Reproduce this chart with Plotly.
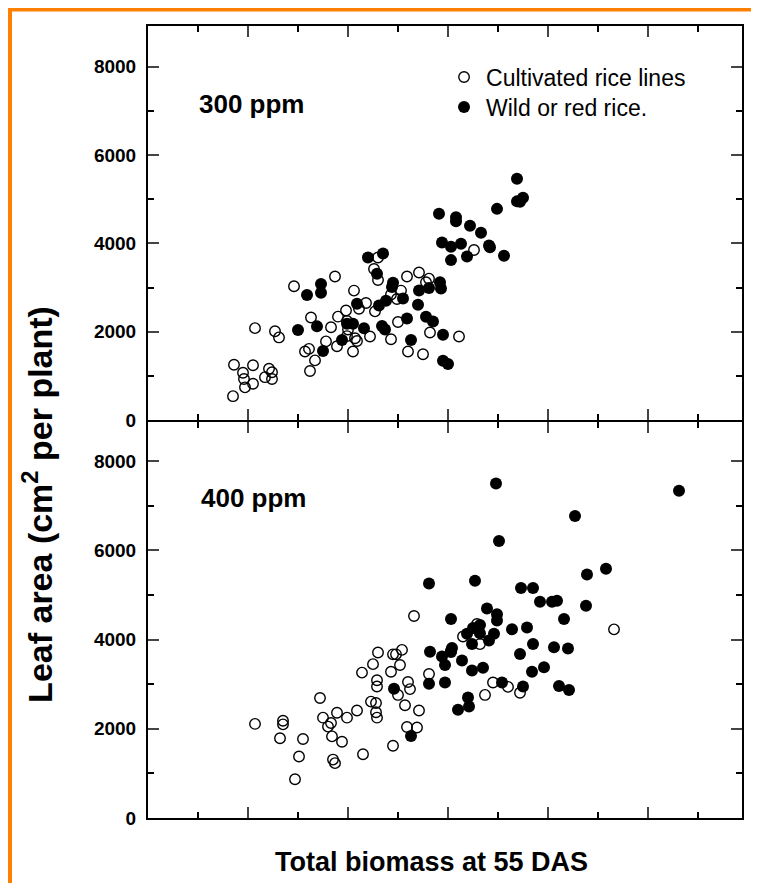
import plotly.graph_objects as go

# 300 ppm panel
cult_300_x = [8.5, 8.6, 9.5, 9.6, 9.7, 10.5, 10.5, 10.7, 11.7, 12.1, 12.4, 12.4, 12.7, 13.1,
              14.6, 15.7, 16.1, 16.3, 16.2, 16.7, 17.8, 18.3, 18.7, 18.9, 19.0, 19.8, 19.9,
              20.0, 19.9, 20.5, 20.6, 20.7, 20.9, 21.1, 21.8, 22.2, 22.6, 22.7, 23.0, 23.0,
              24.3, 24.3, 25.0, 24.9, 25.3, 25.9, 26.0, 27.1, 27.5, 27.8, 28.1, 28.2, 31.1, 32.6]
cult_300_y = [540, 1250, 1070, 930, 740, 820, 1240, 2080, 970, 1160, 1080, 930, 2010, 1870,
              3030, 1550, 1610, 2320, 1110, 1350, 1780, 2100, 3250, 1670, 2340, 2480, 2240,
              2050, 1900, 1550, 2930, 1850, 1790, 2520, 2650, 1890, 3420, 2460, 3170, 3680,
              2840, 1830, 2220, 2740, 2930, 3250, 1550, 3340, 1490, 3120, 3200, 1980, 1890, 3850]
wild_300_x = [15.0, 15.9, 16.9, 17.3, 17.3, 17.5, 19.4, 19.9, 20.5, 20.9, 21.6, 22.0, 22.9,
              23.1, 23.5, 23.8, 23.4, 23.7, 24.4, 24.5, 25.5, 25.9, 26.3, 27.0, 27.1, 27.8,
              28.1, 28.5, 29.2, 29.3, 29.5, 29.5, 30.0, 29.1, 30.8, 30.8, 32.2, 33.3, 34.9,
              36.9, 36.9, 37.2, 37.5, 29.4, 30.3, 31.3, 30.3, 31.9, 34.1, 34.2, 35.6]
wild_300_y = [2040, 2830, 2120, 3080, 2880, 1560, 1810, 2180, 2180, 2630, 2080, 3680, 3310,
              2590, 3770, 2700, 2130, 2050, 3010, 3110, 2750, 2300, 1810, 2610, 2930, 2340,
              2990, 2230, 3120, 2980, 1930, 1340, 1270, 4670, 4590, 4500, 4400, 4240, 4780,
              5460, 4950, 4940, 5030, 4020, 3920, 3990, 3620, 3700, 3950, 3910, 3720]

# 400 ppm panel
cult_400_x = [10.7, 13.5, 13.5, 13.2, 15.5, 15.1, 14.7, 17.2, 17.5, 18.3, 18.0, 18.4, 19.4,
              18.9, 19.9, 18.5, 18.7, 20.9, 21.5, 21.4, 22.3, 22.8, 22.8, 22.9, 22.5, 23.0,
              22.9, 22.9, 24.3, 24.5, 24.8, 25.2, 25.4, 25.0, 25.7, 26.0, 26.2, 27.1, 25.9,
              26.9, 24.5, 28.1, 31.5, 26.6, 33.2, 32.9, 34.5, 36.0, 37.2, 33.7, 46.6]
cult_400_y = [2110, 2180, 2100, 1790, 1770, 1380, 870, 2690, 2250, 2130, 2050, 1830, 1710,
              2360, 2250, 1310, 1230, 2410, 1430, 3260, 2610, 2580, 2370, 2250, 3450, 3710,
              3090, 2950, 3280, 3670, 3670, 3430, 3770, 2760, 2530, 3050, 2890, 2410, 2040,
              2030, 1620, 3230, 4070, 4530, 3900, 4350, 3040, 2940, 2810, 2760, 4230]
wild_400_x = [24.6, 26.3, 28.2, 28.1, 29.4, 29.7, 29.7, 30.4, 31.4, 32.4, 32.4, 32.0, 32.1,
              31.0, 31.9, 30.3, 32.5, 33.2, 33.2, 33.9, 34.9, 34.9, 34.6, 34.1, 33.5, 35.4,
              36.4, 37.9, 38.5, 37.2, 38.4, 39.6, 37.5, 40.6, 42.0, 41.6, 41.1, 42.1, 39.2,
              40.4, 40.9, 43.8, 34.8, 53.1, 42.7, 35.1, 28.1, 32.7, 43.9, 45.8, 37.3, 38.5,
              30.3, 30.3]
wild_400_y = [2900, 1840, 3730, 3010, 3620, 3430, 3040, 3810, 3530, 3900, 3310, 2700, 2500,
              2430, 4130, 4460, 4260, 4330, 4140, 4700, 4570, 4430, 4130, 3980, 3370, 3040,
              4230, 4270, 3900, 3680, 3280, 3380, 2950, 3830, 3800, 4460, 2960, 2870, 4850,
              4850, 4870, 4760, 7500, 7340, 6770, 6210, 5260, 5320, 5460, 5590, 5160, 5160,
              3750, 3720]

y_ticks = [0, 2000, 4000, 6000, 8000]

font = "Liberation Sans, Arial, sans-serif"
open_marker = dict(symbol="circle-open", size=10.5, color="black", line=dict(width=1.4, color="black"))
fill_marker = dict(symbol="circle", size=12, color="black")

fig = go.Figure()
fig.add_trace(go.Scatter(x=cult_300_x, y=cult_300_y, mode="markers", marker=open_marker,
                         xaxis="x2", yaxis="y2", name="Cultivated rice lines", legend="legend"))
fig.add_trace(go.Scatter(x=wild_300_x, y=wild_300_y, mode="markers", marker=fill_marker,
                         xaxis="x2", yaxis="y2", name="Wild or red rice.", legend="legend2"))
fig.add_trace(go.Scatter(x=cult_400_x, y=cult_400_y, mode="markers", marker=open_marker,
                         xaxis="x", yaxis="y", showlegend=False))
fig.add_trace(go.Scatter(x=wild_400_x, y=wild_400_y, mode="markers", marker=fill_marker,
                         xaxis="x", yaxis="y", showlegend=False))

xax = dict(range=[0, 59.4], dtick=10, tick0=0, ticks="inside", ticklen=11, tickwidth=2,
           showticklabels=False, showline=True, linewidth=2, linecolor="black", mirror="ticks",
           showgrid=False, zeroline=False,
           minor=dict(ticks="inside", ticklen=6, dtick=5, tickwidth=2, tickcolor="black"))
yax = dict(tickvals=y_ticks, ticks="inside", ticklen=11, tickwidth=2,
           showline=True, linewidth=2, linecolor="black", mirror="ticks", showgrid=False,
           zeroline=False, ticklabelstandoff=6,
           tickfont=dict(family=font, size=19, color="black", weight="bold"),
           minor=dict(ticks="inside", ticklen=6, dtick=1000, tickwidth=2, tickcolor="black"))

leg = dict(x=0.495, xanchor="left", yanchor="top", itemwidth=34,
           font=dict(family=font, size=23, color="black"), bgcolor="rgba(0,0,0,0)")

# page body has an 8px margin, so the figure is sized to fit the window
fig.update_layout(
    width=751, height=875,
    margin=dict(l=140, r=17, t=18, b=65),
    paper_bgcolor="white", plot_bgcolor="white",
    xaxis=dict(xax, anchor="y"),
    xaxis2=dict(xax, anchor="y2", matches="x"),
    yaxis=dict(yax, range=[0, 8880], domain=[0, 0.5], anchor="x"),
    yaxis2=dict(yax, range=[0, 8920], domain=[0.5025, 1], anchor="x2"),
    legend=dict(leg, y=0.9626),
    legend2=dict(leg, y=0.9247),
    font=dict(family=font, color="black"),
)

fig.add_annotation(x=4.9, y=7160, xref="x2", yref="y2", text="300 ppm", showarrow=False,
                   xanchor="left", yanchor="middle", font=dict(family=font, size=26, weight="bold"))
fig.add_annotation(x=5.1, y=7175, xref="x", yref="y", text="400 ppm", showarrow=False,
                   xanchor="left", yanchor="middle", font=dict(family=font, size=26, weight="bold"))
fig.add_annotation(x=-0.186, y=0.396, xref="paper", yref="paper", textangle=-90,
                   xanchor="center", yanchor="middle",
                   text="Leaf area (cm<sup>2</sup> per plant)", showarrow=False,
                   font=dict(family=font, size=34, weight="bold"))
fig.add_annotation(x=0.477, y=-0.0556, xref="paper", yref="paper",
                   xanchor="center", yanchor="middle",
                   text="Total biomass at 55 DAS", showarrow=False,
                   font=dict(family=font, size=27, weight="bold"))

# orange frame (top and left edges)
orange = "#FF7F00"
fig.add_shape(type="line", xref="paper", yref="paper", x0=(8 - 148) / 594, x1=(759 - 148) / 594,
              y0=(818 - 9.5) / 792, y1=(818 - 9.5) / 792, line=dict(color=orange, width=4))
fig.add_shape(type="line", xref="paper", yref="paper", x0=(10 - 148) / 594, x1=(10 - 148) / 594,
              y0=(818 - 8) / 792, y1=(818 - 883) / 792, line=dict(color=orange, width=4))

fig.write_html("out.html")
